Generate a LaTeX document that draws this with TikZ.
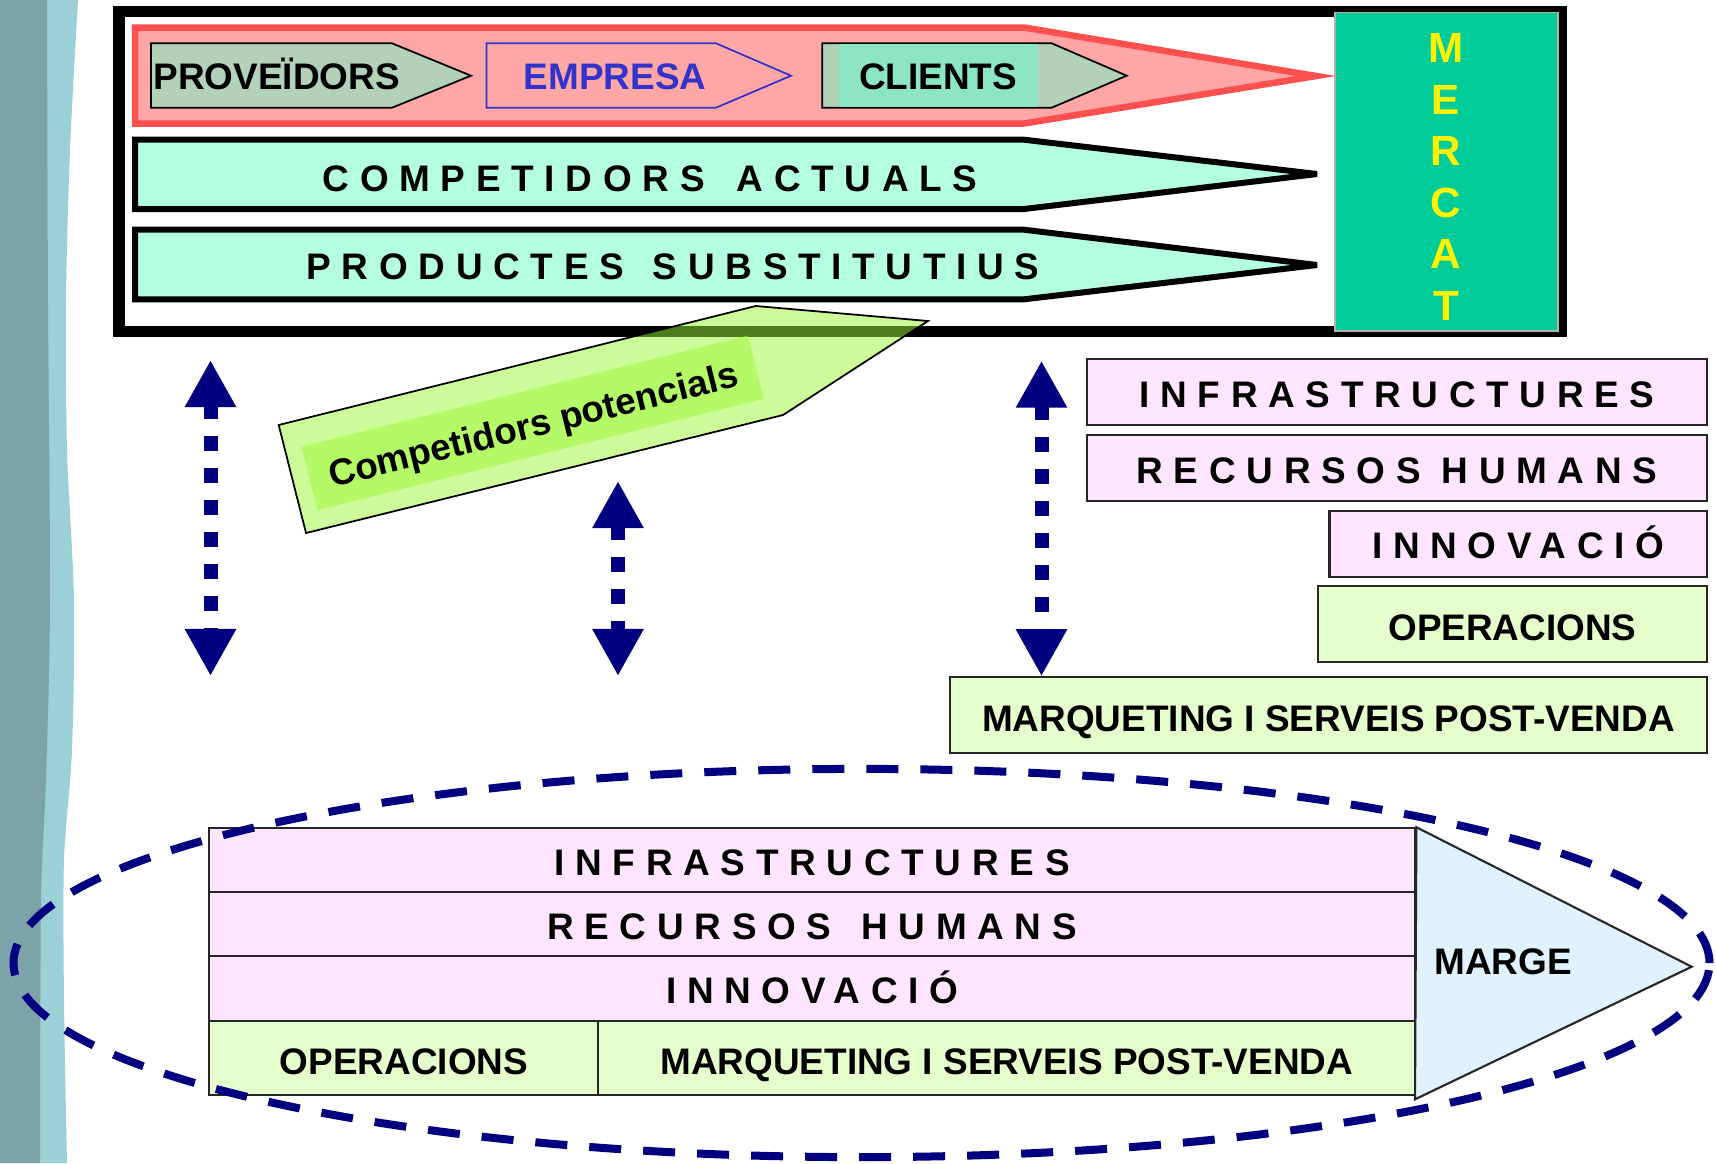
\documentclass[tikz,border=0pt]{standalone}
\usepackage{fontspec}
\setmainfont{Liberation Sans}
\newfontfamily\spacedfam[LetterSpace=29]{Liberation Sans}
\usetikzlibrary{arrows.meta,calc}
\definecolor{navyarr}{RGB}{0,0,128}
\definecolor{redline}{RGB}{255,80,80}
\definecolor{redfill}{RGB}{255,166,166}
\definecolor{sage}{RGB}{179,209,185}
\definecolor{mintfill}{RGB}{179,255,224}
\definecolor{mintbox}{RGB}{140,230,195}
\definecolor{empblue}{RGB}{51,51,204}
\definecolor{mercat}{RGB}{0,204,153}
\definecolor{lime}{RGB}{157,249,53}
\definecolor{pinkfill}{RGB}{255,229,255}
\definecolor{greenfill}{RGB}{229,255,204}
\definecolor{margefill}{RGB}{224,242,255}
\definecolor{bandd}{RGB}{125,163,170}
\definecolor{bandl}{RGB}{155,208,214}
\newcommand\lbfont{\fontsize{10.5}{12}\selectfont\bfseries}
\newcommand\spfont{\spacedfam\fontsize{10.5}{12}\selectfont\bfseries}

\begin{document}
\begin{tikzpicture}[x=0.01cm, y=-0.01cm,
    every node/.style={inner sep=0pt, font=\lbfont, text height=0.265cm, text depth=0pt},
    spc/.style={font=\spfont},
    cell/.style={draw=black!85, line width=0.6pt},
    pinkcell/.style={cell, fill=pinkfill, text height=0.3cm},
    greencell/.style={cell, fill=greenfill, text height=0.33cm},
    band/.style={draw=black, line width=0.06cm, fill=mintfill, miter limit=2},
    tag/.style={draw=black, line width=0.5pt, fill=sage},
    dbl/.style={draw=navyarr, line width=0.14cm, dash pattern=on 0.15cm off 0.17cm,
        {Triangle[length=0.47cm,width=0.48cm]}-{Triangle[length=0.47cm,width=0.48cm]}}]
    \fill[white] (0,0) rectangle (1716,1163);
    \fill[bandl] (0,0) -- plot[smooth] coordinates {(78,0) (70,150) (66,300) (67,450) (74,600) (72,750) (64,860) (64,1000) (67,1163)} -- (0,1163) -- cycle;
    \fill[bandd] (0,0) -- plot[smooth] coordinates {(47,0) (48,300) (50,600) (46,780) (41,900) (40,1163)} -- (0,1163) -- cycle;

    \draw[line width=0.11cm] (119,11) rectangle (1561,331);
    \node[fill=mercat, draw=black!30, line width=0.4pt, minimum width=2.23cm, minimum height=3.18cm] (mercat) at (1446.5,171.7) {};
    \foreach \l [count=\i] in {M,E,R,C,A,T}
        \node[text=yellow, font=\fontsize{12}{14}\selectfont\bfseries, text height=0.31cm] (m\i) at (1446,{47+51.6*(\i-1)}) {\l};

    \draw[redline, fill=redfill, line width=0.065cm] (135,27.5) -- (1024,27.5) -- (1316,76) -- (1024,123.5) -- (135,123.5) -- cycle;
    \draw[tag] (151,43.3) -- (392,43.3) -- (471,75.7) -- (392,107.7) -- (151,107.7) -- cycle;
    \draw[tag, fill=none, draw=empblue] (486.5,43.3) -- (716,43.3) -- (791,75.7) -- (716,107.7) -- (486.5,107.7) -- cycle;
    \draw[tag] (822.3,43.3) -- (1051.7,43.3) -- (1126.7,75.7) -- (1051.7,107.7) -- (822.3,107.7) -- cycle;
    \fill[mintbox] (839,44) rectangle (1037.7,107);
    \node[anchor=west] (prov) at (153,76) {PROVEÏDORS};
    \node[text=empblue] (emp) at (615,76) {EMPRESA};
    \node (cli) at (938,76) {CLIENTS};

    \draw[band] (135,139.7) -- (1024,139.7) -- (1317,174) -- (1024,209) -- (135,209) -- cycle;
    \draw[band] (135,229.7) -- (1024,229.7) -- (1317,265) -- (1024,299.3) -- (135,299.3) -- cycle;
    \node[spc] (act) at (650,178) {COMPETIDORS\hspace{0.11cm} ACTUALS};
    \node[spc] (subs) at (673,266) {PRODUCTES\hspace{0.08cm} SUBSTITUTIUS};

    \path[fill=lime, fill opacity=0.5, draw=black, line width=0.5pt] (278.7,425) -- (755.7,306) -- (928,321) -- (783,415) -- (306,533) -- cycle;
    \fill[lime, fill opacity=0.5] (301.6,446.7) -- (747.8,335.4) -- (763.6,398.8) -- (317.4,510.1) -- cycle;
    \node[rotate=14] (pot) at (533,424) {Competidors potencials};

    \node[pinkcell, spc, minimum width=6.2cm, minimum height=0.66cm] (rInfra) at (1397,392.3) {INFRASTRUCTURES};
    \node[pinkcell, spc, minimum width=6.2cm, minimum height=0.663cm] (rRrhh) at (1397,468.2) {RECURSOS HUMANS};
    \node[pinkcell, spc, minimum width=3.774cm, minimum height=0.66cm] (rInnov) at (1518.3,543.7) {INNOVACIÓ};
    \node[greencell, minimum width=3.893cm, minimum height=0.757cm] (rOper) at (1512.4,623.9) {OPERACIONS};
    \node[greencell, minimum width=7.57cm, minimum height=0.754cm] (rMarq) at (1328.5,715) {MARQUETING I SERVEIS POST-VENDA};

    \coordinate (l1) at (210.5,360);
    \coordinate (l2) at (210.5,676);
    \coordinate (c1) at (618,481);
    \coordinate (c2) at (618,676);
    \coordinate (r1) at (1041.5,360.7);
    \draw[dbl] (l1) -- (l2);
    \draw[dbl] (c1) -- (c2);
    \draw[dbl] (r1) -- (1041.5,0 |- rMarq.north);

    \node[pinkcell, spc, minimum width=12.057cm, minimum height=0.637cm] (bInfra) at (812.15,860.15) {INFRASTRUCTURES};
    \node[pinkcell, spc, minimum width=12.057cm, minimum height=0.643cm] (bRrhh) at (812.15,924.15) {RECURSOS\hspace{0.09cm} HUMANS};
    \node[pinkcell, spc, minimum width=12.057cm, minimum height=0.643cm] (bInnov) at (812.15,988.45) {INNOVACIÓ};
    \node[greencell, minimum width=3.892cm, minimum height=0.744cm] (bOper) at (403.9,1057.8) {OPERACIONS};
    \node[greencell, minimum width=8.165cm, minimum height=0.744cm] (bMarq) at (1006.75,1057.8) {MARQUETING I SERVEIS POST-VENDA};
    \draw[cell, fill=margefill] (bInfra.north east) -- (1691.7,966.7) -- (1415,1099.3) -- cycle;
    \node (marge) at (1503,961.7) {MARGE};

    \draw[navyarr, line width=0.08cm, dash pattern=on 0.32cm off 0.22cm] (861.5,963) ellipse [x radius=8.475cm, y radius=1.94cm];
\end{tikzpicture}
\end{document}
